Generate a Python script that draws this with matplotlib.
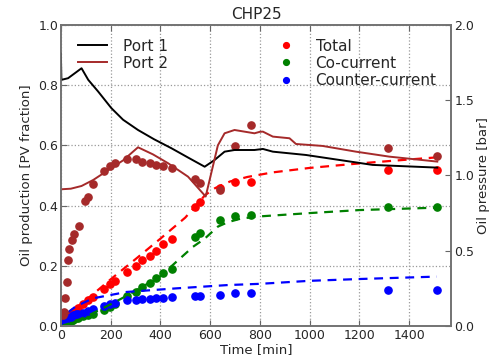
import matplotlib
matplotlib.use('Agg')
import matplotlib.pyplot as plt

plt.rcParams['font.family'] = 'DejaVu Sans'
plt.rcParams['text.color'] = '0.15'
plt.rcParams['axes.labelcolor'] = '0.15'
plt.rcParams['xtick.color'] = '0.15'
plt.rcParams['ytick.color'] = '0.15'

# ---- measured oil production (left axis)
t_meas = [5, 15, 25, 40, 50, 60, 69, 90, 110, 130, 172, 197, 217, 267, 303, 328,
          357, 384, 410, 447, 538, 558, 638, 698, 766, 1313, 1513]
total = [0.01, 0.02, 0.03, 0.04, 0.048, 0.052, 0.059, 0.073, 0.086, 0.097, 0.123, 0.138,
         0.151, 0.178, 0.199, 0.219, 0.234, 0.25, 0.271, 0.289, 0.396, 0.413, 0.457,
         0.479, 0.479, 0.518, 0.518]
cocurrent = [0.0, 0.005, 0.01, 0.015, 0.02, 0.025, 0.028, 0.032, 0.036, 0.039, 0.053,
             0.064, 0.072, 0.1, 0.112, 0.129, 0.142, 0.158, 0.175, 0.19, 0.295, 0.31,
             0.352, 0.365, 0.369, 0.396, 0.396]
counter = [0.01, 0.018, 0.025, 0.03, 0.035, 0.039, 0.039, 0.043, 0.05, 0.056, 0.067,
           0.072, 0.075, 0.085, 0.087, 0.088, 0.091, 0.092, 0.093, 0.095, 0.099, 0.1,
           0.103, 0.109, 0.109, 0.12, 0.12]

# ---- simulated oil production (dashed)
t_tot_sim = [0, 30, 100, 200, 300, 400, 500, 580, 620, 680, 750, 850, 1000, 1200, 1400, 1510]
tot_sim = [0.02, 0.04, 0.085, 0.155, 0.222, 0.29, 0.36, 0.435, 0.458, 0.48, 0.495, 0.51,
           0.525, 0.54, 0.553, 0.56]
t_co_sim = [0, 50, 116, 200, 264, 398, 531, 578, 631, 672, 725, 800, 1000, 1200, 1510]
co_sim = [0.0, 0.012, 0.037, 0.072, 0.1, 0.164, 0.263, 0.29, 0.33, 0.345, 0.357, 0.364,
          0.375, 0.385, 0.393]
t_cc_sim = [0, 20, 60, 130, 264, 465, 672, 800, 1000, 1200, 1510]
cc_sim = [0.0, 0.04, 0.065, 0.092, 0.113, 0.125, 0.136, 0.14, 0.15, 0.156, 0.164]

# ---- oil pressure (right axis)
t_p1 = [0, 2, 29, 56, 83, 110, 150, 203, 250, 310, 375, 444, 510, 578, 618, 658, 698,
        778, 812, 852, 985, 1119, 1253, 1513]
port1 = [1.81, 1.635, 1.646, 1.679, 1.712, 1.635, 1.557, 1.447, 1.37, 1.302, 1.24,
         1.181, 1.12, 1.058, 1.103, 1.158, 1.169, 1.169, 1.176, 1.158, 1.136, 1.103,
         1.07, 1.052]
t_p2 = [0, 40, 83, 130, 176, 250, 310, 370, 431, 511, 582, 631, 658, 698, 778, 800, 812,
        852, 919, 945, 1052, 1186, 1320, 1513]
port2 = [0.908, 0.912, 0.93, 0.97, 1.02, 1.1, 1.187, 1.14, 1.081, 0.992, 0.86, 1.2,
         1.28, 1.302, 1.28, 1.29, 1.291, 1.258, 1.247, 1.209, 1.196, 1.158, 1.125, 1.092]
t_p2_meas = [8, 13, 16, 23, 27, 33, 43, 52, 72, 96, 107, 130, 174, 197, 219, 267, 303,
             326, 357, 384, 410, 447, 538, 558, 638, 698, 766, 1313, 1513]
port2_meas = [0.073, 0.095, 0.184, 0.294, 0.439, 0.51, 0.57, 0.611, 0.664, 0.83, 0.86,
              0.94, 1.03, 1.065, 1.085, 1.11, 1.108, 1.092, 1.081, 1.07, 1.065, 1.048,
              0.975, 0.952, 0.9, 1.198, 1.336, 1.185, 1.131]

brown = '#a52a2a'

fig = plt.figure(figsize=(4.91, 3.61), dpi=100)
ax = fig.add_axes([0.124, 0.097, 0.7955, 0.834])
ax2 = ax.twinx()

ms = 5.2
ax.plot(t_meas, total, 'o', color='r', mec='r', ms=ms, label='Total')
ax.plot(t_meas, cocurrent, 'o', color='g', mec='g', ms=ms, label='Co-current')
ax.plot(t_meas, counter, 'o', color='b', mec='b', ms=ms, label='Counter-current')
ax.plot(t_tot_sim, tot_sim, '--', color='r', lw=1.6, dashes=(4, 3))
ax.plot(t_co_sim, co_sim, '--', color='g', lw=1.6, dashes=(4, 3))
ax.plot(t_cc_sim, cc_sim, '--', color='b', lw=1.6, dashes=(4, 3))

ax2.plot(t_p2_meas, port2_meas, 'o', color=brown, mec=brown, ms=ms)
ax2.plot(t_p1, port1, '-', color='k', lw=1.4, label='Port 1')
ax2.plot(t_p2, port2, '-', color=brown, lw=1.4, label='Port 2')

ax.set_xlim(0, 1570)
ax.set_ylim(0, 1.0)
ax2.set_ylim(0, 2.0)
ax.set_xticks(range(0, 1401, 200))
ax.set_yticks([0.0, 0.2, 0.4, 0.6, 0.8, 1.0])
ax2.set_yticks([0.0, 0.5, 1.0, 1.5, 2.0])
ax.grid(True, linestyle=':', color='0.6', lw=0.9)

ax.set_xlabel('Time [min]', fontsize=9.5, labelpad=1)
ax.set_ylabel('Oil production [PV fraction]', fontsize=9.5)
ax2.set_ylabel('Oil pressure [bar]', fontsize=9.5, labelpad=2)
ax.set_title('CHP25', fontsize=11, pad=4)

for a in (ax, ax2):
    a.tick_params(direction='in', labelsize=9, length=4, color='0.4', pad=2)
    for s in a.spines.values():
        s.set_color('0.45')
        s.set_linewidth(1.2)
ax.tick_params(top=True)

leg1 = ax2.legend(loc='upper left', bbox_to_anchor=(0.029, 0.975), frameon=False,
                  fontsize=11, handlelength=1.9, handletextpad=1.0, labelspacing=0.15,
                  borderaxespad=0)
leg2 = ax.legend(loc='upper left', bbox_to_anchor=(0.523, 0.975), frameon=False,
                 fontsize=11, handlelength=1.9, handletextpad=1.0, labelspacing=0.15,
                 borderaxespad=0, numpoints=1, markerscale=0.8)

fig.savefig('out.png', dpi=100)
